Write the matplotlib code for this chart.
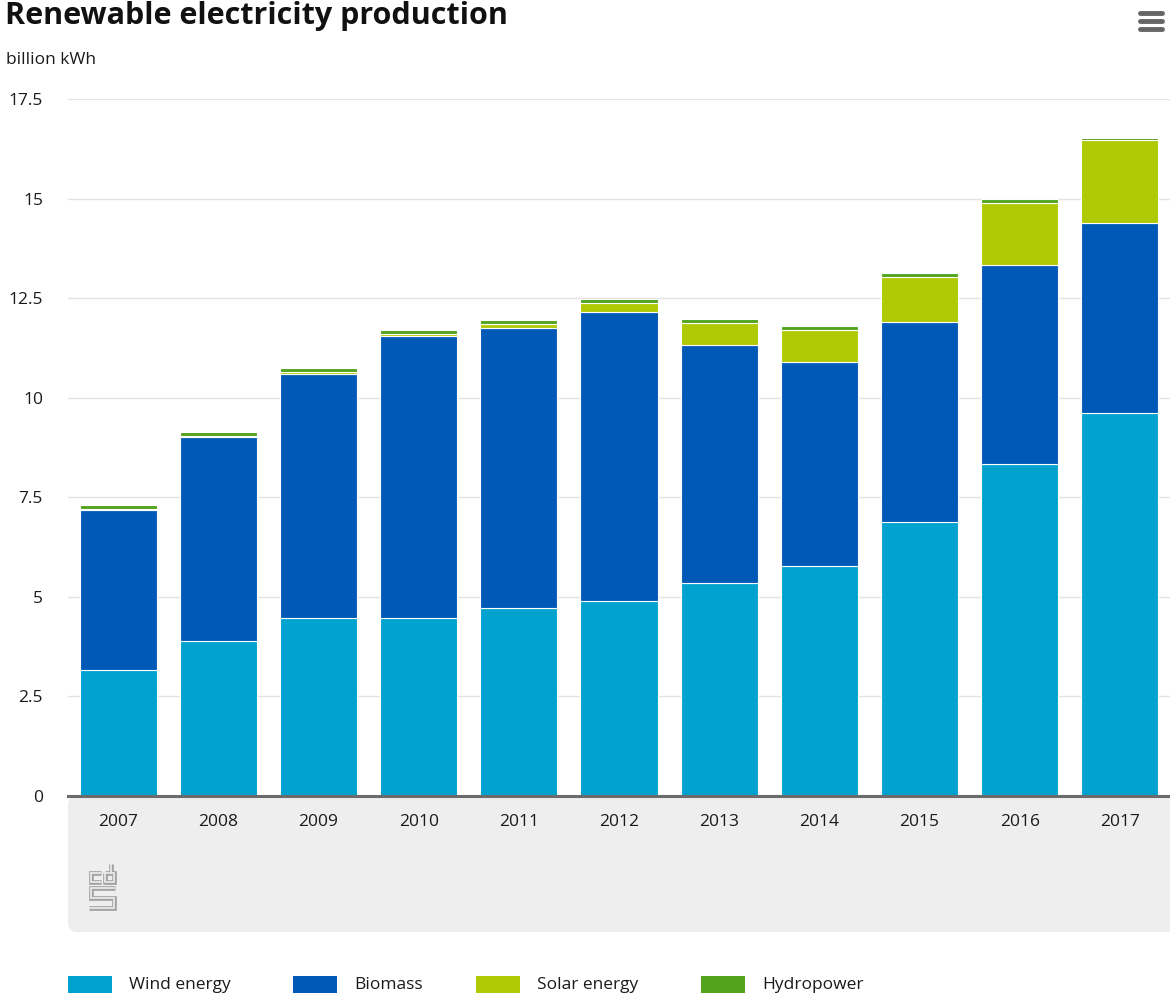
import matplotlib
matplotlib.use("Agg")
import matplotlib.pyplot as plt
from matplotlib.patches import FancyBboxPatch, Rectangle
import numpy as np

plt.rcParams['font.family'] = ['Open Sans', 'DejaVu Sans']

years = ["2007", "2008", "2009", "2010", "2011", "2012", "2013", "2014", "2015", "2016", "2017"]
wind = [3.16, 3.89, 4.47, 4.47, 4.72, 4.90, 5.34, 5.77, 6.89, 8.33, 9.61]
biomass = [4.02, 5.12, 6.12, 7.08, 7.03, 7.24, 5.98, 5.12, 5.01, 5.01, 4.77]
solar = [0.03, 0.04, 0.05, 0.06, 0.10, 0.23, 0.55, 0.80, 1.12, 1.56, 2.09]
hydro = [0.10, 0.10, 0.10, 0.10, 0.10, 0.10, 0.10, 0.10, 0.10, 0.08, 0.06]

series_names = ["Wind energy", "Biomass", "Solar energy", "Hydropower"]
colors = ["#00a2cf", "#0059b7", "#afca04", "#53a31f"]
yticks = [0, 2.5, 5, 7.5, 10, 12.5, 15, 17.5]
ytick_labels = ["0", "2.5", "5", "7.5", "10", "12.5", "15", "17.5"]

W, H = 1170, 998
fig = plt.figure(figsize=(W / 100, H / 100), dpi=100)

def fx(px):
    return px / W

def fy(py):
    return 1 - py / H

# Gray panel under the axis
pax = fig.add_axes([fx(68), fy(932), fx(1170) - fx(68), fy(796) - fy(932)])
pax.set_xlim(0, 1102)
pax.set_ylim(0, 136)
pax.axis('off')
pax.add_patch(FancyBboxPatch((0, 0), 1102 + 30, 136, boxstyle="round,pad=0,rounding_size=9",
                             fc="#eeeeee", ec="none", clip_on=True, zorder=1))

# CBS logo (approximation): hollow strokes, panel pixel coordinates
def lp(xs, ys):
    px = [v - 68 for v in xs]
    py = [932 - v for v in ys]
    pax.plot(px, py, color="#a3a3a3", lw=3.4, zorder=3, solid_joinstyle='miter',
             solid_capstyle='butt')
    pax.plot(px, py, color="#eeeeee", lw=1.2, zorder=4, solid_joinstyle='miter',
             solid_capstyle='butt')
# c
lp([101, 90.5, 90.5, 101], [872.5, 872.5, 881.5, 881.5])
# b
lp([110.5, 110.5], [864, 872.5])
lp([104.5, 113.5, 113.5, 104.5, 104.5], [872.5, 872.5, 881.5, 881.5, 872.5])
# s
lp([114.5, 90.5, 90.5, 113.5, 113.5, 89], [888, 888, 897.5, 897.5, 907.5, 907.5])

# Main axes
ax = fig.add_axes([fx(68), fy(796), fx(1170) - fx(68), fy(99) - fy(796)])
x = np.arange(len(years))
bottom = np.zeros(len(years))
for vals, c, name in zip([wind, biomass, solar, hydro], colors, series_names):
    ax.bar(x, vals, bottom=bottom, width=0.77, color=c, edgecolor="white", linewidth=0.8,
           label=name, zorder=3)
    bottom = bottom + np.array(vals)

ax.set_xlim(-0.5, len(years) - 0.5)
ax.set_ylim(0, 17.5)
ax.set_yticks(yticks)
ax.set_yticklabels(ytick_labels)
ax.set_xticks(x)
ax.set_xticklabels(years)
ax.grid(axis='y', color="#e3e3e3", lw=1.0, zorder=0)
ax.set_axisbelow(True)
for s in ["top", "right", "left"]:
    ax.spines[s].set_visible(False)
ax.spines["bottom"].set_color("#6b6b6b")
ax.spines["bottom"].set_linewidth(2.2)
ax.spines["bottom"].set_zorder(5)
ax.tick_params(axis='y', length=0, pad=18, labelsize=12.5, labelcolor="#1a1a1a")
ax.tick_params(axis='x', length=0, pad=13, labelsize=12.5, labelcolor="#1a1a1a")

# Title & unit
fig.text(fx(5), fy(16), "Renewable electricity production", fontsize=22, fontweight='bold',
         color="#111111", va='center', ha='left')
fig.text(fx(6), fy(60), "billion kWh", fontsize=12.5, color="#1a1a1a", va='center', ha='left')

# Menu icon
for yy in [13, 21, 29]:
    fig.add_artist(plt.Line2D([fx(1140), fx(1162)], [fy(yy), fy(yy)], color="#666666",
                              lw=3.5, solid_capstyle='round'))

# Legend
leg_items = [(68, 129), (293, 354), (476, 537), (701, 762)]
for (sx, tx), c, name in zip(leg_items, colors, series_names):
    fig.add_artist(Rectangle((fx(sx), fy(993)), fx(44), fy(976) - fy(993), fc=c, ec="none",
                             transform=fig.transFigure))
    fig.text(fx(tx), fy(985), name, fontsize=12.5, color="#1a1a1a", va='center', ha='left')

fig.savefig("out.png", dpi=100, facecolor="white")
